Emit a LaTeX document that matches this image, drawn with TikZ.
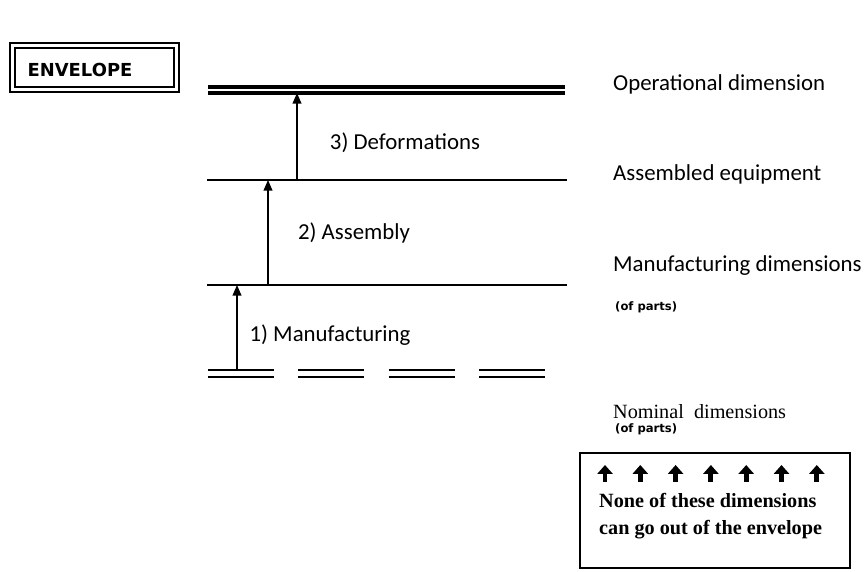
\documentclass[tikz,border=0pt]{standalone}
\usepackage{fontspec}
\setmainfont{Carlito}
\newfontfamily\tahomafont{DejaVu Sans}
\newfontfamily\romanfont{Liberation Serif}
\usetikzlibrary{arrows.meta, positioning, calc}

\begin{document}
\begin{tikzpicture}[
    x=0.02cm, y=-0.02cm,
    level/.style={line width=0.6pt},
    toplevel/.style={line width=2pt},
    nominal/.style={line width=1.2pt, dash pattern=on 1.32cm off 0.49cm},
    arrow/.style={-{Triangle[width=5pt, length=6pt]}, line width=0.7pt},
    boxarrow/.style={-{Triangle[width=8.5pt, length=5pt]}, line width=2.8pt},
    steplabel/.style={font=\fontsize{13}{15}\selectfont},
    dimlabel/.style={anchor=west, font=\fontsize{13}{15}\selectfont},
    partlabel/.style={anchor=west, font=\tahomafont\bfseries\fontsize{6.6}{8}\selectfont}
]
    \useasboundingbox (0,0) rectangle (868,571);

    % envelope title
    \draw[line width=0.6pt] (10,43) rectangle (179,92);
    \draw[line width=1.4pt] (15,48) rectangle (174,87);
    \node[font=\tahomafont\bfseries\fontsize{10.2}{12}\selectfont] (envelope) at (80,70) {ENVELOPE};

    % levels
    \coordinate (opL) at (208,87);   \coordinate (opR) at (565,87);
    \coordinate (asmL) at (207,180); \coordinate (asmR) at (567,180);
    \coordinate (mfgL) at (207,285); \coordinate (mfgR) at (567,285);
    \coordinate (nomL) at (208,370); \coordinate (nomR) at (547,370);

    \draw[toplevel] (opL) -- (opR);
    \draw[toplevel] ($(opL)+(0,6)$) -- ($(opR)+(0,6)$);
    \draw[level] (asmL) -- (asmR);
    \draw[level] (mfgL) -- (mfgR);
    \draw[nominal] (nomL) -- (nomR);
    \draw[nominal] ($(nomL)+(0,7)$) -- ($(nomR)+(0,7)$);

    % steps
    \coordinate (step1) at (237,370);
    \coordinate (step2) at (268,285);
    \coordinate (step3) at (297,180);
    \draw[arrow] (step1) -- (step1 |- mfgL);
    \draw[arrow] (step2) -- (step2 |- asmL);
    \draw[arrow] (step3) -- ($(step3 |- opL)+(0,6)$);

    \node[steplabel] (deform) at (405,143) {3) Deformations};
    \node[steplabel] (assembly) at (354,233) {2) Assembly};
    \node[steplabel] (manuf) at (330,335) {1) Manufacturing};

    % dimension names
    \node[dimlabel] (opdim) at (607,84) {Operational dimension};
    \node[dimlabel] (asmdim) at (607,174) {Assembled equipment};
    \node[dimlabel] (mfgdim) at (607,266) {Manufacturing dimensions};
    \node[partlabel] (mfgparts) at (609,307) {(of parts)};
    \node[dimlabel, font=\romanfont\fontsize{11.5}{13}\selectfont] (nomdim) at (607,412) {Nominal \ dimensions};
    \node[partlabel] (nomparts) at (609,429) {(of parts)};

    % envelope rule
    \draw[line width=1.3pt] (580,453) rectangle (850,568);
    \foreach \i in {0,...,6}
        \draw[boxarrow] (605+35.3*\i,482) -- ++(0,-17);
    \node[anchor=west, align=left, font=\romanfont\bfseries\fontsize{11.5}{15.4}\selectfont] (rule) at (593,516)
        {None of these dimensions\\can go out of the envelope};
\end{tikzpicture}
\end{document}
